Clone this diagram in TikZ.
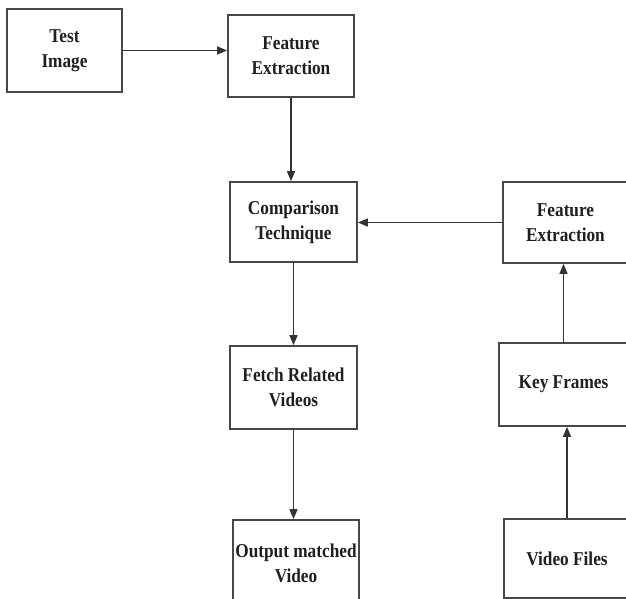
\documentclass[tikz,border=0pt]{standalone}
\usepackage{fontspec}
\setmainfont{Liberation Serif}
\newfontfamily\condfont[FakeStretch=0.88]{Liberation Serif}
\usetikzlibrary{arrows.meta}
\begin{document}
\begin{tikzpicture}[x=1pt,y=1pt,
  box/.style={draw=black!72, line width=1.7pt, fill=white, align=center, inner sep=0pt,
    font=\condfont\fontsize{19.6}{25}\selectfont\bfseries, text=black!88},
  arr/.style={draw=black!80, line width=1.5pt, -{Triangle[length=10pt,width=8pt]}}]
\useasboundingbox (0,0) rectangle (626,-599);
\node[box, minimum width=115pt, minimum height=83pt] (test) at (64.5,-50.5) {Test\\Image};
\node[box, minimum width=126pt, minimum height=82pt] (fe1) at (291,-56) {Feature\\Extraction};
\node[box, minimum width=127pt, minimum height=80pt] (comp) at (293.5,-222) {Comparison\\Technique};
\node[box, minimum width=125pt, minimum height=81pt] (fe2) at (565.5,-222.5) {Feature\\Extraction};
\node[box, minimum width=127pt, minimum height=83pt] (fetch) at (293.5,-387.5) {Fetch Related\\Videos};
\node[box, minimum width=129pt, minimum height=83pt] (key) at (563.5,-384.5) {Key Frames};
\node[box, minimum width=126pt, minimum height=86pt] (output) at (296,-563) {Output matched\\Video};
\node[box, minimum width=126pt, minimum height=79pt] (video) at (567,-558.5) {Video Files};
\draw[arr] (test.east) -- (test.east -| fe1.west);
\draw[arr] (fe1.south) -- (fe1.south |- comp.north);
\draw[arr] (fe2.west) -- (fe2.west -| comp.east);
\draw[arr] (comp.south) -- (comp.south |- fetch.north);
\draw[arr] (fetch.south) -- (fetch.south |- output.north);
\draw[arr] (key.north) -- (key.north |- fe2.south);
\draw[arr] (video.north) -- (video.north |- key.south);
\end{tikzpicture}
\end{document}
